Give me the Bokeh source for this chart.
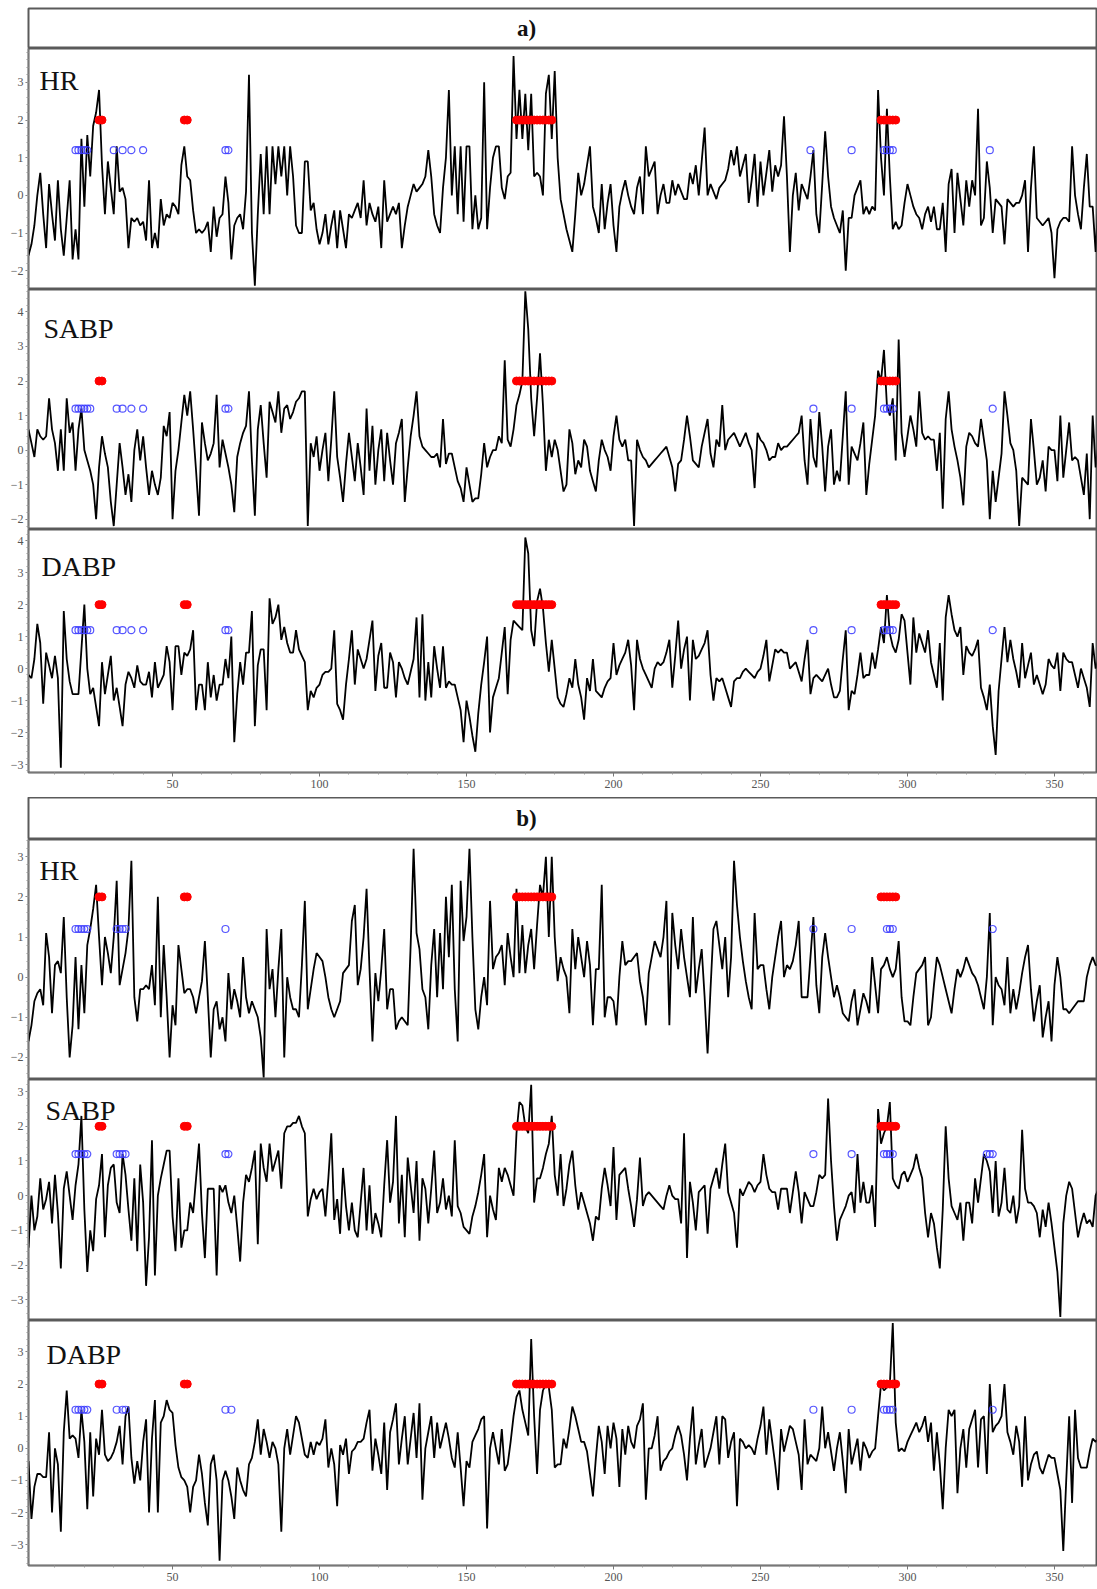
import numpy as np
from bokeh.plotting import figure
from bokeh.layouts import column
from bokeh.models import Range1d, FixedTicker, Label
from bokeh.embed import file_html
from bokeh.resources import INLINE

# ---------------- data ----------------
hr_a = [
 -1.6, -1.3, -0.8, 0.0, 0.6, -0.5, -1.4, 0.3, -0.5, -1.2,
 0.4, -0.9, -1.6, -0.6, 0.4, -1.7, -0.9, -1.7, 1.5, -0.3,
 1.6, 0.5, 1.85, 2.2, 2.8, 0.8, -0.5, 0.9, 0.2, -0.5,
 1.3, 0.1, 0.2, -0.1, -1.4, -0.6, -0.7, -0.6, -0.8, -0.7,
 -1.2, 0.4, -1.4, -1.0, -1.4, -0.1, -0.8, -0.5, -0.6, -0.2,
 -0.3, -0.5, 0.8, 1.3, 0.5, 0.4, -0.4, -1.0, -0.9, -1.0,
 -0.9, -0.7, -1.5, -0.3, -1.1, -0.6, -0.5, 0.5, -0.2, -1.7,
 -0.8, -0.6, -0.5, -0.9, 0.1, 3.2, -1.0, -2.4, -0.5, 1.1,
 -0.5, 1.3, -0.5, 1.3, 0.3, 1.3, 0.5, 1.3, 0.0, 1.3,
 0.5, -0.8, -1.0, -1.0, 0.9, 0.9, -0.4, -0.2, -0.9, -1.3,
 -1.0, -0.5, -1.3, -0.8, -0.4, -1.4, -0.4, -0.9, -1.4, -0.5,
 -0.6, -0.4, -0.2, -0.6, 0.4, -0.8, -0.2, -0.5, -0.7, -0.3,
 -1.4, 0.4, -0.7, -0.5, -0.3, -0.5, -0.2, -1.4, -0.8, -0.3,
 0.0, 0.3, 0.1, 0.2, 0.3, 0.5, 1.2, 0.5, -0.5, -0.8,
 -1.0, 0.2, 1.0, 2.8, 0.0, 1.3, -0.5, 1.3, -0.7, 1.3,
 1.3, -0.9, 0.0, -0.9, -0.6, 3.0, -0.9, 0.2, 1.0, 1.3,
 1.3, 0.2, -0.1, 0.5, 0.6, 3.7, 1.5, 2.8, 1.5, 2.7,
 1.2, 2.7, 0.5, 0.6, 0.5, 0.0, 2.7, 3.2, 1.5, 3.3,
 1.0, -0.1, -0.5, -0.9, -1.2, -1.5, -0.5, 0.6, 0.0, 0.3,
 0.8, 1.3, -0.3, -0.6, -1.0, 0.3, -0.9, -0.2, 0.3, -0.8,
 -1.5, -0.3, 0.1, 0.4, 0.0, -0.3, -0.5, 0.2, 0.5, -0.5,
 1.3, 0.5, 0.7, 0.9, -0.5, 0.0, 0.3, -0.2, -0.2, 0.4,
 0.0, 0.3, 0.1, -0.1, -0.1, 0.6, 0.3, 0.8, 0.0, 0.9,
 1.8, 0.0, 0.3, 0.1, -0.1, 0.2, 0.3, 0.4, 0.7, 1.2,
 0.8, 1.3, 0.5, 0.8, 1.1, -0.2, 0.4, 1.1, -0.3, 0.9,
 0.0, 0.6, 1.2, 0.1, 0.8, 0.5, 0.8, 2.1, 0.5, -1.5,
 0.0, 0.6, -0.4, 0.3, 0.1, -0.1, 0.5, 1.2, -0.5, -1.0,
 0.3, 1.7, 0.5, -0.3, -0.6, -0.8, -1.0, -0.4, -2.0, -0.6,
 -0.6, 0.0, 0.2, 0.4, -0.5, -0.3, -0.5, -0.3, -0.4, 2.8,
 1.0, 0.0, 2.3, 0.5, -0.9, -0.7, -0.9, -0.8, -0.2, 0.3,
 0.0, -0.3, -0.5, -0.6, -0.9, -0.5, -0.3, -0.7, -0.3, -0.9,
 -0.9, -0.2, -1.5, 0.3, 0.7, -1.0, 0.6, -0.1, -0.8, 0.4,
 -0.3, 0.4, 0.0, 2.3, -0.8, -0.6, 0.9, 0.2, -1.0, -0.1,
 -0.2, -0.3, -1.3, -0.1, -0.2, -0.3, -0.2, -0.2, 0.0, 0.4,
 -1.5, 0.2, 1.3, -0.6, -0.7, -0.8, -0.7, -0.6, -1.0, -2.2,
 -0.9, -0.7, -0.6, -0.6, -0.7, 1.3, 0.0, -0.5, -0.9, 0.2,
 1.1, -0.3, -0.3, -1.5, 0.0]

sabp_a = [
 0.6, 0.2, -0.2, 0.6, 0.4, 0.3, 0.4, 1.5, 0.6, 0.2,
 -0.6, 0.6, -0.6, 1.5, 0.5, 0.8, -0.6, 0.6, 1.2, 0.0,
 -0.3, -0.6, -1.0, -2.0, -0.5, 0.4, -0.1, -0.5, -1.5, -2.2,
 -1.0, 0.2, -0.5, -1.3, -0.7, -1.5, 0.0, 0.6, -0.3, 0.4,
 -0.5, -1.3, -0.6, -1.0, -1.3, -0.8, 0.7, 0.4, 1.1, -2.0,
 -0.6, 0.0, 0.8, 1.6, 1.0, 1.7, 0.6, -0.6, -1.9, 0.8,
 0.2, -0.3, -0.1, 0.2, 1.6, -0.5, 0.3, -0.1, -0.5, -1.0,
 -1.8, -0.2, 0.2, 0.5, 0.7, 1.7, -0.3, -1.9, 0.6, 1.3,
 0.2, -0.8, 1.4, 1.1, 0.8, 1.7, 0.5, 1.2, 1.3, 0.9,
 1.1, 1.4, 1.5, 1.7, 1.7, -2.2, 0.2, -0.2, 0.4, -0.6,
 0.0, 0.5, -0.9, 0.3, 1.7, -0.2, -0.8, -1.5, -0.4, 0.5,
 -0.2, -0.9, 0.2, -0.5, -1.3, 1.2, -0.6, 0.7, -1.0, 0.0,
 0.6, -0.9, 0.5, -0.3, -1.0, 0.2, 0.5, 0.9, -1.5, -0.5,
 0.4, 1.0, 1.7, 0.4, 0.1, 0.0, -0.1, -0.2, -0.2, -0.1,
 -0.5, 0.9, -0.4, -0.1, -0.1, -0.5, -0.9, -1.1, -1.5, -0.5,
 -1.0, -1.5, -1.4, -1.4, -0.7, 0.2, -0.5, -0.2, 0.0, 0.0,
 0.4, 0.2, 2.6, 0.3, 0.1, 0.6, 1.3, 1.6, 2.0, 4.6,
 3.5, 1.5, 0.4, 1.5, 2.8, 1.3, -0.6, 0.3, -0.2, 0.3,
 0.0, -0.6, -1.2, -1.0, 0.6, 0.2, -0.7, -0.3, -0.5, 0.3,
 0.1, -0.6, -0.9, -1.2, -0.3, 0.3, 0.0, -0.2, -0.6, 0.4,
 1.0, 0.3, 0.1, 0.3, -0.3, -0.3, -2.2, 0.3, 0.0, -0.2,
 -0.3, -0.5, -0.4, -0.3, -0.2, -0.1, 0.0, 0.1, -0.2, -0.5,
 -1.2, -0.4, -0.3, 0.3, 1.0, 0.4, -0.3, -0.4, -0.5, 0.1,
 0.5, 0.9, -0.1, -0.5, 0.3, 0.1, 1.3, 0.0, 0.3, 0.4,
 0.5, 0.3, 0.1, 0.3, 0.5, 0.2, 0.0, -1.1, 0.5, 0.3,
 0.2, 0.0, -0.3, -0.2, -0.2, 0.2, 0.0, 0.1, 0.1, 0.2,
 0.3, 0.4, 0.5, 1.0, -0.3, -1.0, 0.9, -0.2, -0.5, 1.1,
 0.1, -1.2, 0.1, 0.6, -1.0, -0.6, -0.9, 0.4, 1.7, -1.0,
 0.1, -0.1, -0.3, 0.2, 0.8, -1.3, -0.4, 0.3, 1.0, 2.3,
 2.0, 2.9, 1.3, 1.0, 1.5, -0.3, 3.2, 0.5, -0.2, 0.4,
 1.0, 0.6, 0.1, 1.7, 0.5, 0.3, 0.4, 0.3, 0.3, -0.6,
 0.5, -1.7, 0.9, 1.7, 0.6, 0.1, -0.3, -0.8, -1.6, 0.1,
 0.5, 0.4, 0.2, 0.1, 0.9, 0.3, -0.3, -2.0, -0.6, -1.5,
 -0.8, -0.1, 1.7, 1.0, 0.2, 0.0, -0.6, -2.2, -0.8, -0.9,
 -1.0, 0.9, 0.0, -1.0, -0.8, -0.3, -1.2, 0.1, 0.0, 0.0,
 -0.9, 1.0, -0.8, 0.0, 0.8, -0.3, -0.2, -0.3, -0.8, -1.3,
 -0.1, -2.0, 1.0, -0.5, 0.2]

dabp_a = [
 -0.2, -0.3, 0.3, 1.4, 0.8, -1.1, 0.5, 0.1, -0.3, 0.4,
 -0.3, -3.1, 1.8, 0.3, -0.4, -0.8, -0.8, -0.8, 0.6, 2.0,
 0.0, -0.8, -0.6, -1.2, -1.8, 0.2, -0.8, -0.2, 0.4, -1.0,
 -0.6, -1.2, -1.8, -0.5, -0.1, -0.3, -0.6, 0.1, -0.4, -0.5,
 -0.5, -0.1, -0.9, 0.2, -0.6, -0.4, -0.2, 0.7, 0.2, -1.3,
 0.7, 0.7, -0.2, 0.5, 0.4, 0.6, 1.2, -1.3, -0.5, -0.5,
 -1.3, 0.2, -0.9, -0.2, -1.0, -0.5, -0.5, 0.3, -0.3, 1.0,
 -2.3, -0.8, 0.2, -0.5, 0.5, 0.5, 1.8, -1.8, 0.1, 0.6,
 0.6, -1.3, 2.2, 1.4, 1.6, 2.0, 0.9, 1.3, 0.8, 0.5,
 0.5, 1.2, 0.6, 0.4, 0.2, -1.3, -0.7, -0.9, -0.6, -0.5,
 -0.2, -0.1, -0.1, 0.0, 1.2, -1.1, -1.3, -1.6, -0.5, 0.3,
 1.2, -0.5, 0.6, 0.3, 0.0, 0.3, 0.9, 1.5, -0.7, 0.4,
 0.8, -0.6, -0.6, 0.5, 0.2, -0.9, 0.2, 0.0, -0.3, -0.5,
 -0.1, 0.3, 1.6, -0.9, 1.7, -1.0, 0.2, -0.9, 0.7, 0.0,
 -0.6, 0.7, -0.6, -0.4, -0.5, -0.5, -0.9, -1.3, -2.3, -1.0,
 -1.5, -2.1, -2.6, -1.4, -0.5, 0.2, 1.0, -2.0, -0.9, -0.6,
 -0.3, 0.5, 1.3, -0.8, 0.9, 1.5, 1.4, 1.3, 1.2, 4.1,
 3.6, 1.2, 0.7, 2.1, 2.5, 1.9, 0.8, -0.1, 0.9, 0.0,
 -0.9, -1.1, -1.2, -0.8, -0.3, -0.6, 0.3, -0.5, -0.9, -1.6,
 -0.3, -0.7, 0.3, -0.7, -0.8, -0.9, -0.6, -0.4, -0.3, 0.8,
 -0.2, 0.1, 0.3, 0.5, 0.9, 0.1, -1.3, 0.9, 0.3, 0.0,
 -0.2, -0.4, -0.6, 0.0, 0.2, 0.1, 0.2, 0.5, 0.9, -0.6,
 0.4, 1.5, 0.0, 0.6, 1.0, -1.0, 0.9, 0.3, 0.4, 0.6,
 0.8, 1.2, -0.2, -1.0, -0.3, -0.4, -0.3, -0.6, -0.9, -1.2,
 -0.4, -0.3, -0.3, -0.1, 0.0, -0.1, -0.2, -0.3, -0.1, 0.0,
 0.4, 0.9, -0.4, 0.1, 0.6, 0.5, 0.6, 0.5, 0.5, 0.0,
 0.1, 0.2, -0.1, -0.4, 0.3, 0.9, -0.8, -0.3, -0.2, -0.3,
 -0.4, -0.2, 0.0, -0.5, -0.9, -0.9, -0.7, 0.3, 1.2, -1.3,
 -0.7, -0.8, -0.2, 0.5, -0.3, -0.2, -0.2, 0.5, 0.0, 0.6,
 1.3, 0.8, 2.3, 1.1, 0.7, 0.5, 0.9, 1.7, 1.5, 0.5,
 -0.5, 1.6, 0.5, 1.1, 0.8, 0.5, 1.2, 0.2, -0.2, -0.6,
 0.8, -1.0, 1.6, 2.3, 1.7, 1.2, 1.0, 1.3, -0.2, 0.7,
 0.5, 0.4, 0.6, 0.9, -0.6, -0.9, -1.3, -0.5, -1.8, -2.7,
 -0.7, 0.3, 1.3, 0.2, 0.9, 0.3, -0.1, -0.6, 0.8, -0.3,
 0.1, 0.5, -0.5, -0.2, -0.5, -0.8, -0.5, 0.3, 0.1, 0.0,
 0.5, -0.7, 0.5, 0.3, 0.2, 0.2, -0.2, -0.6, 0.0, -0.3,
 -0.6, -1.2, 0.8, 0.0, 0.3]

hr_b = [
 -1.6, -1.2, -0.6, -0.4, -0.3, -0.7, 1.1, 0.5, -0.9, 0.3,
 0.4, 0.1, 1.5, -0.5, -2.0, -1.2, 0.5, -1.3, 0.3, -0.9,
 0.8, 1.2, 1.7, 2.3, 1.0, -0.2, 1.0, 0.6, 0.1, 1.0,
 2.4, -0.2, 0.2, 0.6, 1.2, 2.9, -0.5, -1.1, -0.3, -0.3,
 -0.2, -0.3, 0.3, -0.7, 2.0, -1.0, 0.8, -0.5, -2.0, -0.7,
 -1.2, 0.8, 0.2, -0.4, -0.3, -0.3, -0.5, -0.9, -0.5, -0.1,
 0.9, -0.5, -2.0, -0.8, -0.6, -1.3, -1.0, -1.6, 0.1, -0.8,
 -0.3, -0.6, -1.0, 0.5, -0.5, -0.9, -0.6, -0.8, -1.0, -1.5,
 -2.5, 1.2, -0.3, 0.2, -1.0, 0.2, 1.2, -2.0, 0.0, -0.5,
 -0.8, -0.8, -1.0, 0.3, 1.9, -0.8, -0.3, 0.2, 0.6, 0.5,
 0.4, 0.0, -0.5, -0.8, -1.0, -0.8, -0.6, 0.1, 0.2, 0.3,
 1.4, 1.8, -0.2, 0.2, 1.0, 2.2, 0.2, -1.6, 0.1, -0.6,
 0.2, 1.2, -0.8, -0.3, -0.3, -1.3, -1.1, -1.0, -1.1, -1.2,
 0.8, 3.2, 1.1, 0.7, -0.3, -0.5, -1.3, 0.3, 1.2, -0.5,
 1.1, -0.3, 2.0, 0.5, 2.3, -0.3, -1.6, 2.4, 0.9, 1.5,
 3.2, 1.0, -0.8, -1.3, -0.5, 0.0, -0.7, 1.9, 0.2, 0.5,
 0.6, 0.8, -0.2, 1.1, 0.5, 0.0, 2.2, 0.1, 1.3, 0.1,
 0.8, 1.2, 0.2, 1.3, 2.3, 2.0, 3.0, 1.0, 3.0, 1.0,
 -0.1, 0.5, 0.2, 0.0, -0.9, 1.2, 0.2, 1.0, 0.5, 0.0,
 0.9, 0.3, -1.2, 0.2, 0.2, 2.3, -1.0, -0.5, -0.5, -0.6,
 -1.2, 0.0, 0.9, 0.3, 0.4, 0.4, 0.5, 0.6, -0.1, -0.5,
 -1.2, 0.1, 0.5, 0.9, 0.7, 0.5, 1.0, 1.9, -1.2, 1.6,
 0.8, 0.2, 1.2, 0.5, 0.0, -0.5, 1.5, -0.4, 0.2, 0.7,
 -0.5, -1.9, -0.3, 1.2, 1.4, 0.8, 0.2, 1.0, -0.5, 0.5,
 2.9, 1.8, 1.0, 0.4, -0.1, -0.5, -0.8, 1.6, 0.2, 0.3,
 0.3, -0.3, -0.8, 0.0, 0.5, 1.0, 1.4, 0.0, 0.3, 0.2,
 0.4, 0.8, 1.4, -0.5, -0.5, -0.5, 0.5, 1.5, -0.2, -0.9,
 0.5, 1.1, 0.5, 0.0, -0.5, -0.2, -0.5, -0.9, -1.0, -1.1,
 -0.6, -0.3, -1.2, -0.8, -0.4, -0.6, -0.9, 0.5, -0.2, -0.9,
 0.2, 0.3, 0.5, 0.2, 0.0, 0.2, 0.9, -0.5, -1.1, -1.1,
 -1.2, -0.5, 0.1, 0.2, 0.3, 0.5, -1.2, -1.0, -0.2, 0.5,
 0.3, 0.0, -0.3, -0.6, -0.9, -0.3, 0.2, 0.0, 0.2, 0.5,
 0.3, 0.1, 0.0, -0.2, -0.5, -0.8, 0.0, 1.6, -1.2, 0.0,
 -0.2, -0.3, -0.7, 0.5, -0.9, -0.3, -0.8, -0.4, 0.1, 0.5,
 0.8, -0.3, -1.1, -0.6, -0.2, -1.5, -1.0, -0.6, -1.6, -0.2,
 0.5, 0.0, -0.8, -0.8, -0.9, -0.8, -0.7, -0.6, -0.6, -0.6,
 0.0, 0.3, 0.5, 0.3, 0.3]

sabp_b = [
 -1.5, 0.0, -1.0, -0.6, 0.5, -0.4, -0.1, 0.4, -0.8, 0.6,
 -0.5, -2.1, 0.2, 0.7, 0.0, -0.7, 0.3, 0.9, 2.3, -0.4,
 -2.2, -1.0, -1.6, -0.1, 0.3, 1.2, -1.2, 0.3, 0.8, 0.9,
 -0.2, -0.5, 1.2, 0.6, -0.4, -1.3, 0.5, -1.6, 0.9, -0.2,
 -2.6, -1.2, 1.6, -2.3, 0.0, 0.5, 0.9, 1.3, 1.3, -0.6,
 -1.6, 0.5, -1.5, -1.0, -1.0, -0.2, -0.5, 0.5, 1.5, -0.5,
 -1.8, 0.2, 0.2, 0.2, -2.3, 0.3, 0.1, 0.3, -0.2, -0.5,
 0.0, -0.9, -1.9, -0.2, 0.6, 0.4, 0.8, 1.3, -1.4, 1.5,
 0.8, 0.4, 1.5, 0.7, 1.0, 1.3, 0.2, 1.8, 2.0, 2.0,
 2.1, 2.1, 2.3, 2.0, 1.8, -0.6, -0.1, 0.2, -0.1, 0.1,
 0.2, -0.6, 0.5, 1.8, -0.7, -0.1, -1.1, 0.8, -0.3, -1.0,
 -0.2, -1.0, -1.2, -0.2, 0.8, -1.0, 0.3, -1.1, -0.5, -0.8,
 -1.2, 0.3, 1.6, -0.2, 0.4, 2.3, -0.8, 0.6, -1.2, 1.1,
 0.3, -0.5, 1.0, -1.3, 0.5, 0.2, -0.8, 0.2, 1.3, -0.5,
 -0.2, 0.5, -0.4, 0.0, -0.6, 1.6, -0.3, -0.5, -0.9, -1.0,
 -1.1, -0.6, -0.3, 0.1, 0.6, 1.2, -1.2, 0.0, -0.4, -0.7,
 0.8, 0.4, 0.8, 0.6, 0.3, 0.0, 1.8, 2.7, 2.6, 2.0,
 1.8, 3.2, -0.2, 0.5, 0.5, 0.8, 1.2, 1.5, 2.3, 0.6,
 0.0, 1.2, -0.3, 0.2, 0.9, 1.3, 0.3, -0.4, 0.1, -0.2,
 -0.5, -0.8, -1.3, -0.6, -0.7, 0.2, 0.8, 0.3, -0.3, 1.4,
 -0.7, 0.6, 0.7, 0.8, 0.2, -0.3, -0.9, -0.1, 1.1, -0.3,
 0.0, 0.1, 0.0, -0.1, -0.2, -0.3, -0.4, 0.0, 0.3, 0.0,
 -0.1, -0.1, -0.8, 1.8, -1.8, 0.4, -0.2, -1.0, 0.1, 0.2,
 0.3, -1.1, 0.2, 0.5, 0.8, 0.2, 0.9, 1.5, 0.1, -0.2,
 -0.5, -1.5, 0.2, 0.0, 0.2, 0.4, 0.3, 0.1, 0.3, 0.4,
 1.2, 0.6, 0.2, 0.1, 0.1, -0.4, 0.2, 0.2, 0.2, -0.5,
 0.1, 0.7, 0.1, -0.8, 0.1, -0.1, -0.3, -0.3, 0.1, 0.6,
 0.5, 0.6, 2.8, 1.0, -0.3, -1.3, -0.7, -0.5, -0.3, 0.0,
 0.1, -0.5, 1.2, -0.2, 0.4, -0.2, -0.2, 0.3, -0.9, 2.5,
 1.5, 1.8, 2.0, 2.7, 0.5, 0.3, 0.2, 0.6, 0.7, 0.4,
 0.6, 0.8, 1.2, 0.8, 0.5, -0.5, -1.2, -0.5, -0.8, -1.5,
 -2.1, -0.4, 2.0, 0.5, -0.3, -0.5, -0.7, -0.2, -1.3, -0.2,
 -0.2, -0.8, 0.5, -0.2, 0.5, 1.2, 1.0, 0.7, -0.5, 1.0,
 -0.6, -0.2, 0.8, -0.4, -0.5, 0.0, -0.8, -0.3, 1.9, 0.2,
 -0.2, -0.2, -0.3, -0.5, -1.2, -0.4, -0.9, -0.2, -0.8, -1.5,
 -2.2, -3.5, -0.8, 0.0, 0.4, 0.2, -0.5, -1.2, -0.8, -0.5,
 -0.8, -0.7, -0.9, 0.0, 0.2]

dabp_b = [
 -0.4, -2.2, -1.2, -0.8, -0.8, -0.9, -0.9, 0.5, -2.0, 0.0,
 -0.5, -2.6, 0.5, 1.8, 0.3, 0.4, 0.3, -0.3, 1.2, 0.2,
 -1.9, 0.5, -1.5, 0.3, -0.2, 1.2, -0.2, -0.4, -0.3, -0.1,
 0.2, 0.7, -0.5, 1.0, 1.3, -0.3, -1.1, -0.4, -1.0, 0.2,
 0.9, -2.0, 0.3, 1.5, -2.0, 0.8, 1.0, 1.5, 1.2, 1.1,
 0.1, -0.6, -0.9, -1.0, -1.2, -2.0, -1.2, -1.0, -0.2, -0.8,
 -1.7, -2.4, -0.5, -0.2, -1.0, -3.5, -1.0, -0.7, -1.0, -1.5,
 -2.2, -0.6, -1.0, -1.3, -1.5, -0.5, -0.3, 0.2, 0.9, -0.2,
 0.6, 0.2, -0.3, 0.2, 0.0, -0.5, -2.6, 0.0, 0.6, -0.2,
 0.4, 1.0, 0.8, 0.3, -0.2, -0.3, 0.2, -0.2, 0.2, 0.1,
 0.3, 0.9, -0.6, 0.0, -0.5, -1.8, 0.1, -0.2, 0.3, -0.8,
 -0.1, 0.0, 0.2, 0.2, 0.3, 0.8, 1.2, -0.7, 0.3, -0.2,
 -0.8, 0.8, -1.3, 0.5, 0.9, 1.4, -0.5, 0.3, 1.0, -0.5,
 0.3, 1.1, -0.3, 1.4, -1.6, 0.0, 0.5, 1.0, -0.3, 0.8,
 0.0, 0.4, 0.8, 0.3, -0.3, -0.6, 0.5, -0.6, -1.8, -0.4,
 -0.6, 0.2, 0.4, 0.6, 0.9, 1.0, -2.5, 0.0, 0.5, 0.0,
 -0.5, 0.6, -0.7, -0.5, 0.2, 1.0, 1.6, 1.8, 1.2, 0.8,
 0.4, 3.4, 1.0, -0.8, 1.2, 1.8, 2.0, 1.9, 1.2, -0.6,
 -0.5, -0.5, 0.3, 0.0, 0.6, 1.3, 1.0, 0.6, 0.2, 0.2,
 -0.1, -0.8, -1.5, -0.3, 0.7, 0.2, -0.8, 0.7, 0.0, 0.8,
 0.3, -1.2, 0.6, -0.2, 0.7, 0.2, 0.0, 0.7, 0.9, 1.4,
 -1.6, 0.0, 0.0, 0.4, 1.0, -0.7, -0.4, -0.3, -0.1, 0.0,
 0.4, 0.7, 0.4, -0.2, -1.0, 0.3, 1.3, -0.5, 0.1, 0.6,
 -0.6, -0.3, 0.0, 0.5, 1.0, -0.5, 1.0, 0.9, -0.3, 0.2,
 0.5, -1.8, 0.3, 0.2, 0.0, 0.1, 0.0, -0.2, 0.3, 0.7,
 1.3, -0.2, 0.9, 0.2, -0.5, -1.3, 0.6, -0.1, 0.3, 0.7,
 0.6, 0.2, -0.2, -1.3, 0.9, -0.5, -0.2, -0.3, -0.4, 0.0,
 1.3, 0.0, 0.5, -0.1, -0.7, 0.0, 0.5, -0.4, -1.4, 0.6,
 -0.5, -0.1, 0.3, -0.7, 0.2, 0.0, -0.3, -0.1, 0.0, 1.0,
 2.0, 1.8, 1.9, 2.0, 3.9, 0.8, -0.1, 0.0, -0.1, 0.2,
 0.4, 0.6, 0.8, 0.5, 0.7, 1.0, 0.2, 0.8, -0.7, 0.5,
 -0.5, -1.9, 0.0, 1.2, 1.0, 1.2, -1.4, 0.0, 0.6, -0.6,
 0.6, 0.9, 1.2, -0.6, 0.9, 1.0, -0.8, 2.0, 0.5, 0.7,
 0.8, 1.0, 2.0, 0.5, 0.2, -0.2, 0.7, 0.2, -1.2, 1.0,
 -1.0, -0.5, -0.2, -0.1, -0.6, -0.8, -0.5, -0.2, -0.3, -0.3,
 -0.8, -1.3, -3.2, -1.0, 1.0, -1.7, 1.2, -0.3, -0.6, -0.6,
 -0.6, -0.1, 0.3, 0.2, 0.3]

# event markers (time indices)
red_std = [25, 26, 54, 55, 167, 168, 169, 170, 171, 172, 173, 174, 175, 176, 177, 178, 179,
           291, 292, 293, 294, 295, 296]
red_sabp_a = [25, 26, 167, 168, 169, 170, 171, 172, 173, 174, 175, 176, 177, 178, 179,
              291, 292, 293, 294, 295, 296]
blue_hr_a = [17, 18, 19, 20, 21, 30, 33, 36, 40, 68, 69, 267, 281, 292, 293, 294, 295, 328]
blue_sabp_a = [17, 18, 19, 20, 21, 22, 31, 33, 36, 40, 68, 69, 268, 281, 292, 293, 294, 295, 329]
blue_dabp_a = [17, 18, 19, 20, 21, 22, 31, 33, 36, 40, 68, 69, 268, 281, 292, 293, 294, 295, 329]
blue_hr_b = [17, 18, 19, 20, 21, 31, 32, 33, 34, 68, 268, 281, 293, 294, 295, 329]
blue_sabp_b = [17, 18, 19, 20, 21, 31, 32, 33, 34, 68, 69, 268, 281, 292, 293, 294, 295, 327, 328, 329]
blue_dabp_b = [17, 18, 19, 20, 21, 31, 33, 34, 68, 70, 268, 281, 292, 293, 294, 295, 329]

RED_LEVEL = 2.0
BLUE_LEVEL = 1.2
x_major_ticks = [50, 100, 150, 200, 250, 300, 350]
x_minor_ticks = [10, 20, 30, 40, 60, 70, 80, 90, 110, 120, 130, 140, 160, 170, 180, 190,
                 210, 220, 230, 240, 260, 270, 280, 290, 310, 320, 330, 340, 360]

# ---------------- layout ----------------
W = 1097
LEFT = 28
RIGHT = 1
X_MIN, X_MAX = 1.0, 364.3
SERIF = "Liberation Serif"
PX_X = (W - LEFT - RIGHT) / (X_MAX - X_MIN)


def title_fig(text, height, top):
    p = figure(width=W, height=height, x_range=Range1d(X_MIN, X_MAX), y_range=Range1d(0, 1),
               x_axis_type=None, y_axis_type=None, toolbar_location=None, output_backend="svg",
               min_border_left=LEFT, min_border_right=RIGHT, min_border_top=top, min_border_bottom=0)
    p.outline_line_color = "#5a5a5a"
    p.outline_line_width = 2
    p.background_fill_color = "white"
    p.border_fill_color = "white"
    p.add_layout(Label(x=X_MIN + (526 - LEFT) / PX_X, y=0.5, text=text, text_align="center",
                       text_baseline="middle", text_font=SERIF, text_font_style="bold",
                       text_font_size="23px", text_color="#111111"))
    return p


def panel_fig(name, ys, red, blue, yr, height, lab_left, lab_base, bottom=0, xaxis=False):
    lo, hi = yr
    frame_h = height - bottom
    p = figure(width=W, height=height, x_range=Range1d(X_MIN, X_MAX), y_range=Range1d(lo, hi),
               toolbar_location=None, output_backend="svg",
               x_axis_location="below" if xaxis else None,
               min_border_left=LEFT, min_border_right=RIGHT, min_border_top=0,
               min_border_bottom=bottom)
    p.grid.visible = False
    p.outline_line_color = "#5a5a5a"
    p.outline_line_width = 2
    p.background_fill_color = "white"
    p.border_fill_color = "white"

    ya = p.yaxis[0]
    ya.ticker = FixedTicker(ticks=[t for t in range(-5, 6) if lo + 0.12 <= t <= hi - 0.12],
                            minor_ticks=[round(v, 1) for v in np.arange(-5, 5.01, 0.2) if lo <= v <= hi])
    ya.major_label_text_font = SERIF
    ya.major_label_text_font_size = "12px"
    ya.major_label_text_color = "#555555"
    ya.axis_line_color = "#777777"
    ya.major_tick_line_color = "#777777"
    ya.minor_tick_line_color = "#999999"
    ya.major_tick_out = 3
    ya.major_tick_in = 0
    ya.minor_tick_out = 2
    ya.minor_tick_in = 0
    ya.major_label_standoff = 2

    if xaxis:
        xa = p.xaxis[0]
        xa.ticker = FixedTicker(ticks=x_major_ticks, minor_ticks=x_minor_ticks)
        xa.major_label_text_font = SERIF
        xa.major_label_text_font_size = "12px"
        xa.major_label_text_color = "#555555"
        xa.axis_line_color = "#777777"
        xa.major_tick_line_color = "#777777"
        xa.minor_tick_line_color = "#999999"
        xa.major_tick_out = 4
        xa.major_tick_in = 0
        xa.minor_tick_out = 2
        xa.minor_tick_in = 0
        xa.major_label_standoff = 3

    xs = np.arange(1, len(ys) + 1)
    p.line(xs, ys, line_color="black", line_width=1.8)
    p.scatter(red, [RED_LEVEL] * len(red), size=8, fill_color="red", line_color="red", line_width=1)
    p.scatter(blue, [BLUE_LEVEL] * len(blue), size=7, fill_color=None, line_color="#3a3aff",
              line_width=1.2, line_alpha=0.85)

    py = frame_h / (hi - lo)
    p.add_layout(Label(x=X_MIN + (lab_left - LEFT) / PX_X, y=hi - lab_base / py, text=name,
                       text_align="left", text_baseline="alphabetic", text_font=SERIF,
                       text_font_size="28px", text_color="#111111"))
    return p


figs = [
    title_fig("a)", 48, 8),
    panel_fig("HR", hr_a, red_std, blue_hr_a, (-2.5, 3.9), 241, 39, 32),
    panel_fig("SABP", sabp_a, red_sabp_a, blue_sabp_a, (-2.3, 4.65), 240, 43, 39),
    panel_fig("DABP", dabp_a, red_std, blue_dabp_a, (-3.25, 4.35), 268, 41, 37, bottom=25, xaxis=True),
    title_fig("b)", 42, 0),
    panel_fig("HR", hr_b, red_std, blue_hr_b, (-2.55, 3.43), 240, 39, 31),
    panel_fig("SABP", sabp_b, red_std, blue_sabp_b, (-3.6, 3.35), 241, 45, 31),
    panel_fig("DABP", dabp_b, red_std, blue_dabp_b, (-3.65, 3.98), 269, 46, 34, bottom=24, xaxis=True),
]

layout = column(*figs, spacing=0)

with open("out.html", "w") as f:
    f.write(file_html(layout, INLINE))
